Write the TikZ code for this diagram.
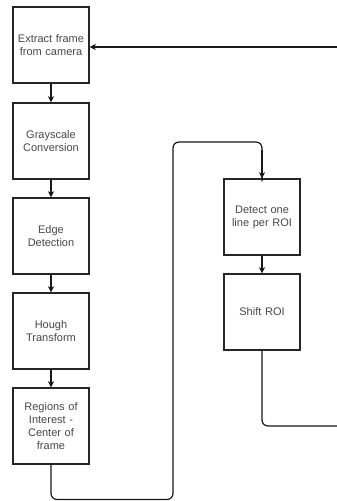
\documentclass[tikz,border=0pt]{standalone}
\usepackage{fontspec}
\setmainfont{Liberation Sans}
\usetikzlibrary{arrows.meta}
\begin{document}
\begin{tikzpicture}[x=1pt,y=-1pt,
  stepbox/.style={draw=black!85, line width=1.4pt, minimum width=76pt, minimum height=76pt,
    inner sep=2pt, align=center, text width=72pt, font=\fontsize{11}{13}\selectfont, text=black!72},
  flow/.style={draw=black!90, line width=1.2pt, -{Stealth[length=6pt,width=6pt,inset=1.5pt]}},
  link/.style={draw=black!90, line width=1.2pt, rounded corners=6pt}]
\useasboundingbox (0,0) rectangle (337,501);
% left column
\node[stepbox] (extract) at (51,45) {Extract frame\\from camera};
\node[stepbox] (gray) at (51,141) {Grayscale\\Conversion};
\node[stepbox] (edge) at (51,236) {Edge\\Detection};
\node[stepbox] (hough) at (51,331) {Hough\\Transform};
\node[stepbox] (roi) at (51,426) {Regions of\\Interest -\\Center of\\frame};
% right column
\node[stepbox] (detect) at (262,217) {Detect one\\line per ROI};
\node[stepbox] (shift) at (262,312) {Shift ROI};
% free ends at the right edge
\coordinate (back) at (337,47);
\coordinate (out) at (337,426);
% connectors
\draw[flow] (extract) -- (gray);
\draw[flow] (gray) -- (edge);
\draw[flow] (edge) -- (hough);
\draw[flow] (hough) -- (roi);
\draw[flow] (back) -- (extract.east |- back);
\draw[link] (roi.south) -- (51,499.5) -- (173,499.5) -- (173,142) -- (262,142) -- ([yshift=-3pt]detect.north);
\draw[flow] (262,150) -- (detect.north);
\draw[flow] (detect) -- (shift);
\draw[link] (shift.south) -- (262,426) -- (out);
\end{tikzpicture}
\end{document}
